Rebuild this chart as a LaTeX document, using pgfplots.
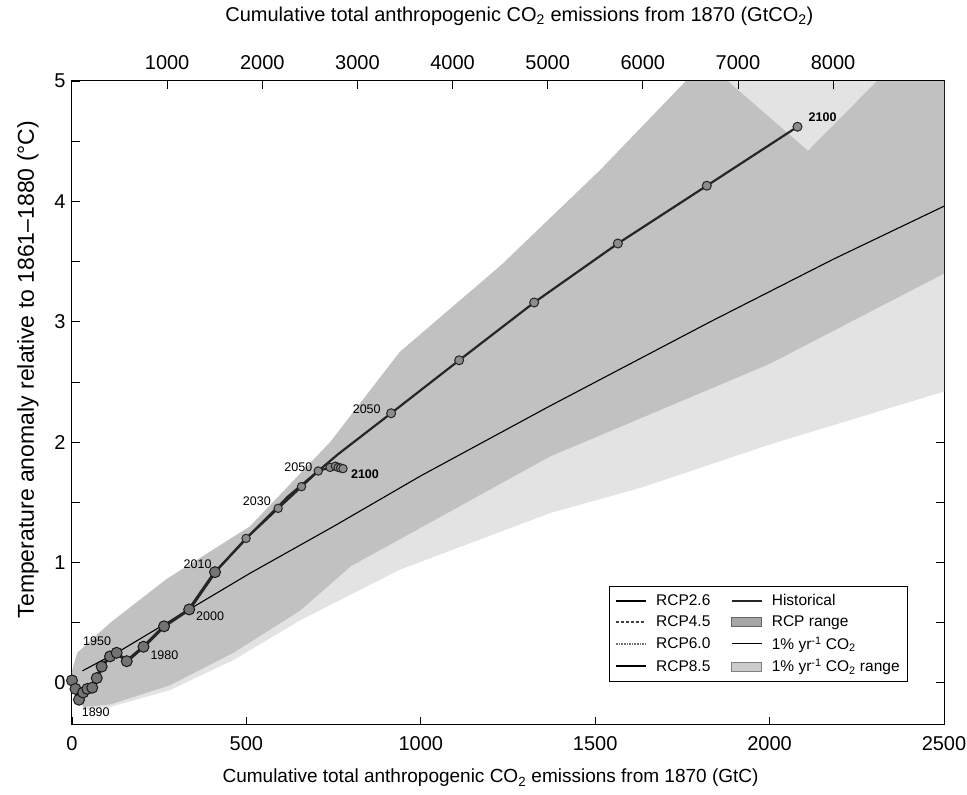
\documentclass[border=0pt]{standalone}
\usepackage{fontspec}
\setmainfont{Liberation Sans}
\usepackage{pgfplots}
\pgfplotsset{compat=1.18}
\pgfplotsset{
  lineimg/.style={legend image code/.code={\draw[##1] (0pt,0pt) -- (30pt,0pt);}},
  areaimg/.style={legend image code/.code={\draw[##1] (0pt,-4.5pt) rectangle (30pt,4.5pt);}},
}
\begin{document}
\begin{tikzpicture}[font=\fontsize{19}{22}\selectfont]
\pgfplotsset{
  every axis/.append style={
    width=872pt, height=644pt, scale only axis,
    ymin=-0.35, ymax=5,
    tick align=inside,
    major tick length=8pt, minor tick length=8pt,
    tick style={black, line width=0.8pt},
    /pgf/number format/assume math mode=true,
    /pgf/number format/1000 sep={},
    tick label style={font=\fontsize{20}{22}\selectfont},
  },
}
\begin{axis}[
  xmin=0, xmax=2500,
  axis line style={line width=1pt},
  xtick={0,500,...,2500},
  xtick pos=bottom,
  ytick={0,1,...,5},
  minor ytick={0.5,1.5,...,4.5},
  xticklabel style={yshift=-8pt},
  yticklabel style={xshift=-3pt},
  xlabel={Cumulative total anthropogenic CO\textsubscript{2} emissions from 1870 (GtC)},
  xlabel style={at={(axis description cs:0.48,-0.082)}, anchor=center, font=\fontsize{19}{22}\selectfont},
  ylabel={Temperature anomaly relative to 1861--1880 (°C)},
  ylabel style={at={(axis description cs:-0.0505,0.552)}, anchor=center, font=\fontsize{23}{26}\selectfont},
  legend columns=2,
  legend cell align=left,
  legend style={at={(0.9587,0.067)}, anchor=south east,
    font=\fontsize{15.5}{18}\selectfont, draw=black, line width=0.7pt,
    /tikz/every odd column/.append style={column sep=7pt},
    /tikz/every even column/.append style={column sep=18pt},
    row sep=4.5pt, inner sep=6pt},
]
\coordinate (O) at (rel axis cs:0,0);

% 1% yr-1 CO2 range (light)
\addplot[fill=black!11, draw=none, forget plot] coordinates {
 (0,0.1) (15,0.25) (110,0.5) (270,0.86) (510,1.3) (740,2.0) (940,2.75)
 (1230,3.47) (1514,4.26) (1760,5.0) (2500,5.0) (2500,2.42) (2000,1.98)
 (1630,1.62) (1370,1.41) (940,0.94) (654,0.52) (463,0.19) (281,-0.06)
 (109,-0.2) (33,-0.22) (0,0.0)} -- cycle;

% RCP range (overlay)
\addplot[fill=black, fill opacity=0.15, draw=none, forget plot] coordinates {
 (0,0.1) (15,0.25) (110,0.5) (270,0.86) (510,1.3) (740,2.0) (940,2.75)
 (1230,3.47) (1514,4.26) (1760,5.0) (1880,5.0) (2110,4.42) (2308,5.0)
 (2500,5.0) (2500,3.4) (2000,2.65) (1370,1.88) (800,0.97) (654,0.6)
 (463,0.25) (281,-0.02) (109,-0.18) (33,-0.2) (0,0.0)} -- cycle;

% 1% yr-1 CO2 line
\addplot[black, line width=1.1pt, forget plot] coordinates {
 (30,0.1) (140,0.27) (336,0.61) (510,0.91) (750,1.30) (1000,1.72)
 (1370,2.30) (1830,3.0) (2183,3.52) (2500,3.96)};

% RCP8.5
\addplot[black!85, line width=2.2pt, forget plot,
  mark=*, mark size=4.5pt, mark indices={5,6,7,8,9,10},
  mark options={fill=black!45, draw=black!85, line width=1pt}] coordinates {
 (410,0.92) (510,1.23) (620,1.55) (763,1.90) (915,2.24) (1110,2.68)
 (1325,3.16) (1565,3.65) (1820,4.13) (2080,4.62)};

% RCP2.6
\addplot[black!85, line width=2.2pt, forget plot,
  mark=*, mark size=4.2pt,
  mark options={fill=black!45, draw=black!85, line width=1pt}] coordinates {
 (410,0.92) (499,1.2) (591,1.45) (658,1.63) (706,1.76) (740,1.79)
 (755,1.80) (763,1.79) (770,1.785) (777,1.78)};

% Historical
\addplot[black!85, line width=3.2pt, forget plot,
  mark=*, mark size=5.5pt,
  mark options={fill=black!55, draw=black!90, line width=1pt}] coordinates {
 (0,0.02) (10,-0.05) (20,-0.14) (32,-0.08) (44,-0.05) (58,-0.04)
 (71,0.04) (85,0.135) (109,0.22) (128,0.25) (157,0.18) (205,0.30)
 (264,0.47) (336,0.61) (410,0.92)};

% legend
\addlegendimage{lineimg, black, line width=1.6pt}
\addlegendentry{RCP2.6}
\addlegendimage{lineimg, black!85, line width=2.4pt}
\addlegendentry{Historical}
\addlegendimage{lineimg, black!75, line width=1.6pt, densely dashed}
\addlegendentry{RCP4.5}
\addlegendimage{areaimg, fill=black!35, draw=black!60}
\addlegendentry{RCP range}
\addlegendimage{lineimg, black!55, line width=1.6pt, densely dotted}
\addlegendentry{RCP6.0}
\addlegendimage{lineimg, black, line width=0.8pt}
\addlegendentry{1\% yr\textsuperscript{-1} CO\textsubscript{2}}
\addlegendimage{lineimg, black, line width=2pt}
\addlegendentry{RCP8.5}
\addlegendimage{areaimg, fill=black!20, draw=black!50}
\addlegendentry{1\% yr\textsuperscript{-1} CO\textsubscript{2} range}

% year labels
\node[font=\fontsize{12.5}{14}\selectfont] at (axis cs:68,-0.245) {1890};
\node[font=\fontsize{12.5}{14}\selectfont] at (axis cs:72,0.345) {1950};
\node[font=\fontsize{12.5}{14}\selectfont] at (axis cs:265,0.23) {1980};
\node[font=\fontsize{12.5}{14}\selectfont] at (axis cs:396,0.55) {2000};
\node[font=\fontsize{12.5}{14}\selectfont] at (axis cs:360,0.99) {2010};
\node[font=\fontsize{12.5}{14}\selectfont] at (axis cs:530,1.51) {2030};
\node[font=\fontsize{12.5}{14}\selectfont] at (axis cs:649,1.79) {2050};
\node[font=\fontsize{12.5}{14}\selectfont\bfseries] at (axis cs:840,1.73) {2100};
\node[font=\fontsize{12.5}{14}\selectfont] at (axis cs:845,2.27) {2050};
\node[font=\fontsize{12.5}{14}\selectfont\bfseries] at (axis cs:2152,4.70) {2100};
\end{axis}

\begin{axis}[
  xmin=0, xmax=9166.67,
  axis x line*=top,
  hide y axis,
  xtick={1000,2000,...,8000},
  xticklabel style={yshift=8pt},
  xlabel={Cumulative total anthropogenic CO\textsubscript{2} emissions from 1870 (GtCO\textsubscript{2})},
  xlabel style={at={(axis description cs:0.513,1.1)}, anchor=center, font=\fontsize{20}{22}\selectfont},
  x axis line style={line width=1pt},
]
\end{axis}
\pgfresetboundingbox
\path (O) ++(-72pt,-70pt) rectangle ++(967pt,795pt);
\end{tikzpicture}
\end{document}
